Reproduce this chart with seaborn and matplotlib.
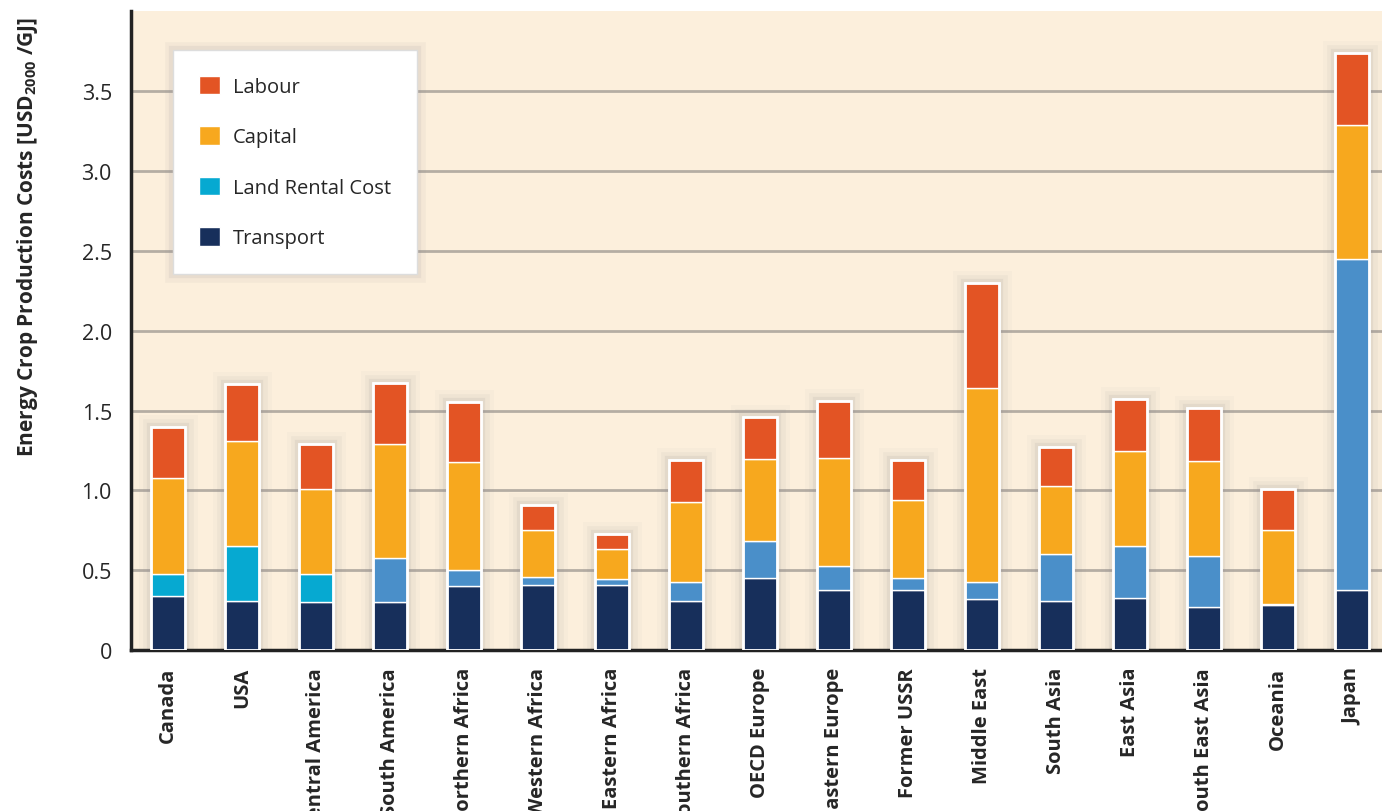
import numpy as np
import pandas as pd
import seaborn as sns
import matplotlib.pyplot as plt
import matplotlib.patheffects as pe
from matplotlib.patches import Patch

regions = ["Canada", "USA", "Central America", "South America", "Northern Africa",
           "Western Africa", "Eastern Africa", "Southern Africa", "OECD Europe",
           "Eastern Europe", "Former USSR", "Middle East", "South Asia", "East Asia",
           "South East Asia", "Oceania", "Japan"]

# cost components, USD2000/GJ
transport = [0.34, 0.31, 0.30, 0.30, 0.40, 0.41, 0.41, 0.31, 0.45, 0.38, 0.38, 0.32, 0.31, 0.33, 0.27, 0.28, 0.38]
land_rent = [0.14, 0.34, 0.18, 0.28, 0.10, 0.05, 0.035, 0.12, 0.235, 0.15, 0.07, 0.105, 0.295, 0.32, 0.32, 0.01, 2.07]
capital = [0.60, 0.66, 0.53, 0.71, 0.68, 0.29, 0.19, 0.50, 0.515, 0.675, 0.49, 1.215, 0.425, 0.60, 0.595, 0.465, 0.84]
labour = [0.32, 0.355, 0.28, 0.385, 0.375, 0.16, 0.09, 0.26, 0.26, 0.355, 0.25, 0.66, 0.245, 0.32, 0.33, 0.255, 0.45]

c_labour = "#e35424"
c_capital = "#f7a81e"
c_land = "#06a9d1"
c_land2 = "#4a8fc9"
c_transport = "#172f5b"

df = pd.DataFrame({"region": regions, "transport": transport, "land": land_rent,
                   "capital": capital, "labour": labour})
df["b_land"] = df["transport"]
df["b_capital"] = df["b_land"] + df["land"]
df["b_labour"] = df["b_capital"] + df["capital"]
df["total"] = df["b_labour"] + df["labour"]

sns.set_style("white")
plt.rcParams["font.family"] = ["Open Sans", "DejaVu Sans"]
plt.rcParams["mathtext.fontset"] = "custom"
plt.rcParams["mathtext.rm"] = "Open Sans"

bw = 0.46

fig = plt.figure(figsize=(13.82, 8.12), dpi=100)
ax = fig.add_axes([0.095, 0.198, 0.905, 0.787])
ax.set_facecolor("#fcefdc")

# soft shadow behind each bar
glow = [pe.Stroke(linewidth=18, foreground="#8f8a90", alpha=0.04),
        pe.Stroke(linewidth=12, foreground="#8f8a90", alpha=0.07),
        pe.Stroke(linewidth=6, foreground="#8f8a90", alpha=0.12),
        pe.Normal()]
sns.barplot(data=df, x="region", y="total", order=regions, color="white",
            width=bw, saturation=1, ax=ax, zorder=2)
for p in ax.patches:
    p.set_path_effects(glow)

sns.barplot(data=df, x="region", y="transport", order=regions, color=c_transport,
            width=bw, saturation=1, ax=ax, zorder=3)
sns.barplot(data=df, x="region", y="land", bottom=df["b_land"], order=regions,
            color=c_land2, width=bw, saturation=1, ax=ax, zorder=3)
# the first three regions use the lighter cyan
for p in ax.containers[-1].patches[:3]:
    p.set_facecolor(c_land)
sns.barplot(data=df, x="region", y="capital", bottom=df["b_capital"], order=regions,
            color=c_capital, width=bw, saturation=1, ax=ax, zorder=3)
sns.barplot(data=df, x="region", y="labour", bottom=df["b_labour"], order=regions,
            color=c_labour, width=bw, saturation=1, ax=ax, zorder=3)
sns.barplot(data=df, x="region", y="total", order=regions, color="white", fill=False,
            linewidth=2, width=bw, ax=ax, zorder=4)
for p in ax.containers[-1].patches:
    p.set_edgecolor("white")
    p.set_facecolor("none")

ax.set_ylim(0, 4)
ax.set_xlim(-0.493, 16.405)
ax.set_yticks(np.arange(0, 3.6, 0.5))
ax.set_yticklabels(["0", "0.5", "1.0", "1.5", "2.0", "2.5", "3.0", "3.5"], fontsize=15.5)
ax.yaxis.grid(True, color="#b5ada3", linewidth=2)
ax.set_axisbelow(True)
ax.tick_params(axis="both", length=0)
ax.tick_params(axis="y", pad=14)
ax.tick_params(axis="x", pad=12)
plt.setp(ax.get_xticklabels(), rotation=90, fontsize=14.5, fontweight="bold", va="top")

for s in ["top", "right"]:
    ax.spines[s].set_visible(False)
for s in ["left", "bottom"]:
    ax.spines[s].set_color("#222222")
    ax.spines[s].set_linewidth(2.5)

ax.set_xlabel("")
ax.set_ylabel(r"Energy Crop Production Costs [USD$_{\mathregular{2000}}$ /GJ]",
              fontsize=15, fontweight="bold")
ax.yaxis.set_label_coords(-0.073, 0.648)

handles = [Patch(facecolor=c_labour, label="Labour"),
           Patch(facecolor=c_capital, label="Capital"),
           Patch(facecolor=c_land, label="Land Rental Cost"),
           Patch(facecolor=c_transport, label="Transport")]
leg = ax.legend(handles=handles, loc="upper left", bbox_to_anchor=(0.033, 0.94),
                fontsize=14.5, frameon=True, fancybox=False, framealpha=1,
                handlelength=1.05, handleheight=1.05, handletextpad=0.65,
                labelspacing=1.45, borderpad=1.3, borderaxespad=0)
frame = leg.get_frame()
frame.set_edgecolor("#dddddd")
frame.set_linewidth(1)
frame.set_path_effects([pe.Stroke(linewidth=12, foreground="#8f8a90", alpha=0.07),
                        pe.Stroke(linewidth=6, foreground="#8f8a90", alpha=0.11),
                        pe.Normal()])
leg.set_zorder(10)

fig.savefig("out.png", dpi=100)
